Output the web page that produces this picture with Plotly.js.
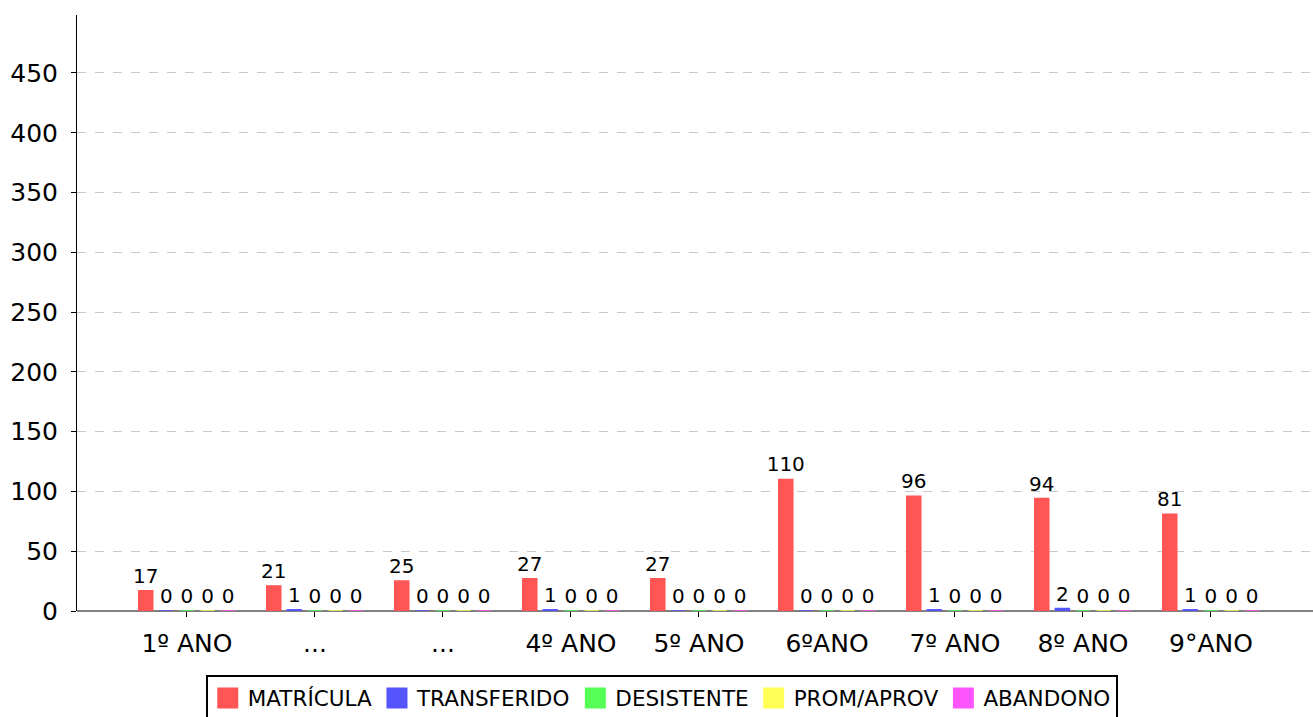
<!DOCTYPE html>
<html>
<head>
<meta charset="utf-8">
<script src="https://cdn.plot.ly/plotly-3.0.1.min.js"></script>
<style>html,body{margin:0;padding:0;background:#fff;}#chart{width:1313px;height:717px;}</style>
</head>
<body>
<div id="chart"></div>
<script>
const categories = ['1º ANO', '...', '...', '4º ANO', '5º ANO', '6ºANO', '7º ANO', '8º ANO', '9°ANO'];
const seriesNames = ['MATRÍCULA', 'TRANSFERIDO', 'DESISTENTE', 'PROM/APROV', 'ABANDONO'];
const matricula   = [17, 21, 25, 27, 27, 110, 96, 94, 81];
const transferido = [0, 1, 0, 1, 0, 0, 1, 2, 1];
const desistente  = [0, 0, 0, 0, 0, 0, 0, 0, 0];
const promAprov   = [0, 0, 0, 0, 0, 0, 0, 0, 0];
const abandono    = [0, 0, 0, 0, 0, 0, 0, 0, 0];
const yTicks = [0, 50, 100, 150, 200, 250, 300, 350, 400, 450];

const colors = ['#FF5555', '#5555FF', '#55FF55', '#FFFF55', '#FF55FF'];
const seriesValues = [matricula, transferido, desistente, promAprov, abandono];
const xIdx = categories.map((_, i) => i);

const traces = seriesValues.map((vals, k) => ({
  type: 'bar',
  name: seriesNames[k],
  x: xIdx,
  y: vals,
  text: vals.map(String),
  textposition: 'outside',
  constraintext: 'none',
  cliponaxis: false,
  textfont: {family: 'DejaVu Sans', size: 20, color: '#000'},
  marker: {color: colors[k], line: {color: colors[k], width: 1.5}},
  hoverinfo: 'x+y+name'
}));

const layout = {
  width: 1313, height: 717,
  margin: {l: 77, r: 0, t: 15, b: 106},
  paper_bgcolor: '#fff', plot_bgcolor: '#fff',
  font: {family: 'DejaVu Sans', color: '#000'},
  barmode: 'group',
  bargap: 0.195,
  bargroupgap: 0.32,
  showlegend: true,
  xaxis: {
    range: [-0.859, 8.797],
    tickmode: 'array',
    tickvals: xIdx,
    ticktext: categories,
    ticks: 'outside', ticklen: 5, tickcolor: '#000',
    ticklabelstandoff: 5,
    tickfont: {size: 25, color: '#000'},
    showgrid: false, zeroline: false, showline: false
  },
  yaxis: {
    range: [0, 498.5],
    tickmode: 'array',
    tickvals: yTicks,
    ticktext: yTicks.map(String),
    ticks: 'outside', ticklen: 5, tickcolor: '#000',
    ticklabelstandoff: 8,
    tickfont: {size: 25, color: '#000'},
    showgrid: true, gridcolor: '#c8c8c8', griddash: 'dash', gridwidth: 1,
    zeroline: true, zerolinecolor: '#808080', zerolinewidth: 2,
    showline: true, linecolor: '#000', linewidth: 1
  },
  legend: {
    orientation: 'h',
    xref: 'container', yref: 'container',
    x: 0.504, xanchor: 'center',
    y: 0.058, yanchor: 'top',
    font: {size: 21.5, color: '#000'},
    bordercolor: '#000', borderwidth: 2,
    bgcolor: '#fff'
  }
};

Plotly.newPlot('chart', traces, layout, {displayModeBar: false, staticPlot: true}).then(gd => {
  gd.querySelectorAll('.legend .legendpoints path').forEach(p => {
    const t = p.getAttribute('transform') || '';
    p.setAttribute('transform', t + ' scale(1.75)');
    p.style.strokeWidth = '0';
  });
});
</script>
</body>
</html>
